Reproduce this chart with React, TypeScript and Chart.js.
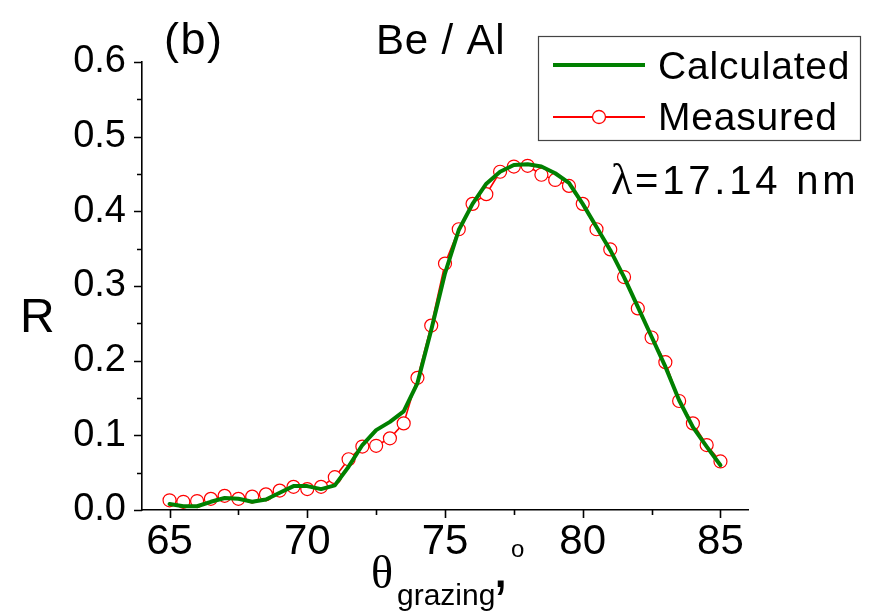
import React, { useEffect, useRef } from 'react';
import { Chart, registerables } from 'chart.js';

Chart.register(...registerables);

const MEASURED_X = [65, 65.5, 66, 66.5, 67, 67.5, 68, 68.5, 69, 69.5, 70, 70.5, 71, 71.5, 72, 72.5, 73, 73.5, 74, 74.5, 75, 75.5, 76, 76.5, 77, 77.5, 78, 78.5, 79, 79.5, 80, 80.5, 81, 81.5, 82, 82.5, 83, 83.5, 84, 84.5, 85];
const MEASURED_R = [0.013, 0.011, 0.012, 0.015, 0.019, 0.015, 0.018, 0.021, 0.026, 0.031, 0.028, 0.031, 0.044, 0.068, 0.085, 0.086, 0.096, 0.116, 0.177, 0.247, 0.33, 0.376, 0.41, 0.423, 0.453, 0.46, 0.461, 0.449, 0.442, 0.434, 0.41, 0.376, 0.349, 0.312, 0.27, 0.231, 0.198, 0.146, 0.116, 0.087, 0.065];

const CALC_X = [65, 65.5, 66, 66.5, 67, 67.5, 68, 68.5, 69, 69.5, 70, 70.5, 71, 71.5, 72, 72.5, 73, 73.5, 74, 74.5, 75, 75.5, 76, 76.5, 77, 77.5, 78, 78.5, 79, 79.5, 80, 80.5, 81, 81.5, 82, 82.5, 83, 83.5, 84, 84.5, 85];
const CALC_R = [0.008, 0.005, 0.005, 0.011, 0.016, 0.015, 0.011, 0.014, 0.023, 0.032, 0.032, 0.028, 0.033, 0.058, 0.087, 0.107, 0.118, 0.132, 0.17, 0.241, 0.317, 0.375, 0.41, 0.437, 0.453, 0.462, 0.463, 0.46, 0.451, 0.438, 0.41, 0.379, 0.348, 0.312, 0.272, 0.232, 0.192, 0.147, 0.111, 0.085, 0.06];

const X_TICKS = [65, 70, 75, 80, 85];
const X_MINOR = [67.5, 72.5, 77.5, 82.5];
const Y_TICKS = [0, 0.1, 0.2, 0.3, 0.4, 0.5, 0.6];
const Y_MINOR = [0.05, 0.15, 0.25, 0.35, 0.45, 0.55];

const SERIES_NAMES = ['Calculated', 'Measured'];
const PANEL_LABEL = '(b)';
const TITLE = 'Be / Al';
const LAMBDA_TEXT = '=17.14 nm';
const Y_TITLE = 'R';

const SANS = '"Liberation Sans", Arial, sans-serif';
const SERIF = '"Liberation Serif", "Times New Roman", serif';

function drawText(ctx: CanvasRenderingContext2D, text: string, x: number, y: number, font: string, spacing = 0) {
  ctx.save();
  ctx.font = font;
  ctx.fillStyle = '#000';
  ctx.textAlign = 'left';
  ctx.textBaseline = 'alphabetic';
  (ctx as any).letterSpacing = spacing + 'px';
  ctx.fillText(text, x, y);
  ctx.restore();
}

const decorPlugin = {
  id: 'decor',
  afterDraw(chart: any) {
    const ctx: CanvasRenderingContext2D = chart.ctx;
    const xs = chart.scales.x;
    const ys = chart.scales.y;
    const area = chart.chartArea;
    ctx.save();
    ctx.strokeStyle = '#000';
    ctx.lineWidth = 1.6;
    ctx.beginPath();
    X_TICKS.forEach((v) => {
      const p = Math.round(xs.getPixelForValue(v)) + 0.5;
      ctx.moveTo(p, area.bottom);
      ctx.lineTo(p, area.bottom + 8);
    });
    X_MINOR.forEach((v) => {
      const p = Math.round(xs.getPixelForValue(v)) + 0.5;
      ctx.moveTo(p, area.bottom);
      ctx.lineTo(p, area.bottom + 5);
    });
    Y_TICKS.forEach((v) => {
      const p = Math.round(ys.getPixelForValue(v)) + 0.5;
      ctx.moveTo(area.left, p);
      ctx.lineTo(area.left - 8, p);
    });
    Y_MINOR.forEach((v) => {
      const p = Math.round(ys.getPixelForValue(v)) + 0.5;
      ctx.moveTo(area.left, p);
      ctx.lineTo(area.left - 5, p);
    });
    ctx.stroke();
    ctx.restore();

    // texts
    drawText(ctx, PANEL_LABEL, 164, 54, `45px ${SANS}`, 1.5);
    drawText(ctx, TITLE, 376, 54, `42px ${SANS}`, 0.8);
    drawText(ctx, 'λ', 611, 194, `44px ${SERIF}`);
    drawText(ctx, LAMBDA_TEXT, 635, 194, `40px ${SANS}`, 3.8);
    drawText(ctx, Y_TITLE, 20, 332, `48px ${SANS}`);
    // x title
    drawText(ctx, 'θ', 371, 588, `46px ${SERIF}`);
    drawText(ctx, 'grazing', 397, 605, `30px ${SANS}`);
    drawText(ctx, ',', 492, 587, `62px ${SANS}`);
    drawText(ctx, 'o', 511, 557, `24px ${SANS}`);

    // legend
    ctx.save();
    ctx.strokeStyle = '#444';
    ctx.lineWidth = 1.2;
    ctx.strokeRect(538.5, 36.5, 322, 104);
    ctx.strokeStyle = '#008000';
    ctx.lineWidth = 4;
    ctx.beginPath();
    ctx.moveTo(553, 65);
    ctx.lineTo(645, 65);
    ctx.stroke();
    ctx.strokeStyle = '#ff0000';
    ctx.lineWidth = 2;
    ctx.beginPath();
    ctx.moveTo(553, 117);
    ctx.lineTo(645, 117);
    ctx.stroke();
    ctx.beginPath();
    ctx.arc(599, 117, 6.5, 0, Math.PI * 2);
    ctx.fillStyle = '#fff';
    ctx.fill();
    ctx.lineWidth = 1.3;
    ctx.stroke();
    ctx.restore();
    drawText(ctx, SERIES_NAMES[0], 658, 79, `39px ${SANS}`, 0.8);
    drawText(ctx, SERIES_NAMES[1], 658, 130, `39px ${SANS}`, 0.8);
  },
};

export default function App() {
  const canvasRef = useRef<HTMLCanvasElement | null>(null);

  useEffect(() => {
    if (!canvasRef.current) return;
    const chart = new Chart(canvasRef.current, {
      type: 'line',
      data: {
        datasets: [
          {
            label: SERIES_NAMES[0],
            data: CALC_X.map((x, i) => ({ x, y: CALC_R[i] })),
            borderColor: '#008000',
            borderWidth: 4,
            pointRadius: 0,
            tension: 0,
            borderJoinStyle: 'round',
            borderCapStyle: 'round',
            fill: false,
          },
          {
            label: SERIES_NAMES[1],
            data: MEASURED_X.map((x, i) => ({ x, y: MEASURED_R[i] })),
            borderColor: '#ff0000',
            borderWidth: 1.6,
            pointRadius: 6.5,
            pointBorderWidth: 1.2,
            pointBorderColor: '#ff0000',
            pointBackgroundColor: '#ffffff',
            tension: 0,
            fill: false,
          },
        ],
      },
      options: {
        animation: false,
        responsive: false,
        maintainAspectRatio: false,
        events: [],
        layout: { padding: { top: 62, right: 127, left: 0, bottom: 0 } },
        plugins: {
          legend: { display: false },
          tooltip: { enabled: false },
        },
        scales: {
          x: {
            type: 'linear',
            min: 64,
            max: 86,
            afterBuildTicks: (s: any) => {
              s.ticks = X_TICKS.map((v) => ({ value: v }));
            },
            afterFit: (s: any) => {
              s.height = 102;
            },
            grid: { display: false, drawTicks: false },
            border: { display: true, color: '#000', width: 1.6 },
            ticks: {
              color: '#000',
              padding: 11,
              font: { family: SANS, size: 42, lineHeight: 1 },
              maxRotation: 0,
              callback: (v: any) => String(v),
            },
          },
          y: {
            type: 'linear',
            min: 0,
            max: 0.6,
            afterBuildTicks: (s: any) => {
              s.ticks = Y_TICKS.map((v) => ({ value: v }));
            },
            afterFit: (s: any) => {
              s.width = 142;
            },
            grid: { display: false, drawTicks: false },
            border: { display: true, color: '#000', width: 1.6 },
            ticks: {
              color: '#000',
              padding: 16,
              font: { family: SANS, size: 38, lineHeight: 1 },
              callback: (v: any) => Number(v).toFixed(1),
            },
          },
        },
      },
      plugins: [decorPlugin],
    });
    return () => chart.destroy();
  }, []);

  return (
    <div style={{ position: 'fixed', left: 0, top: 0, width: 875, height: 612, background: '#fff' }}>
      <canvas ref={canvasRef} width={875} height={612} style={{ width: 875, height: 612, display: 'block' }} />
    </div>
  );
}
